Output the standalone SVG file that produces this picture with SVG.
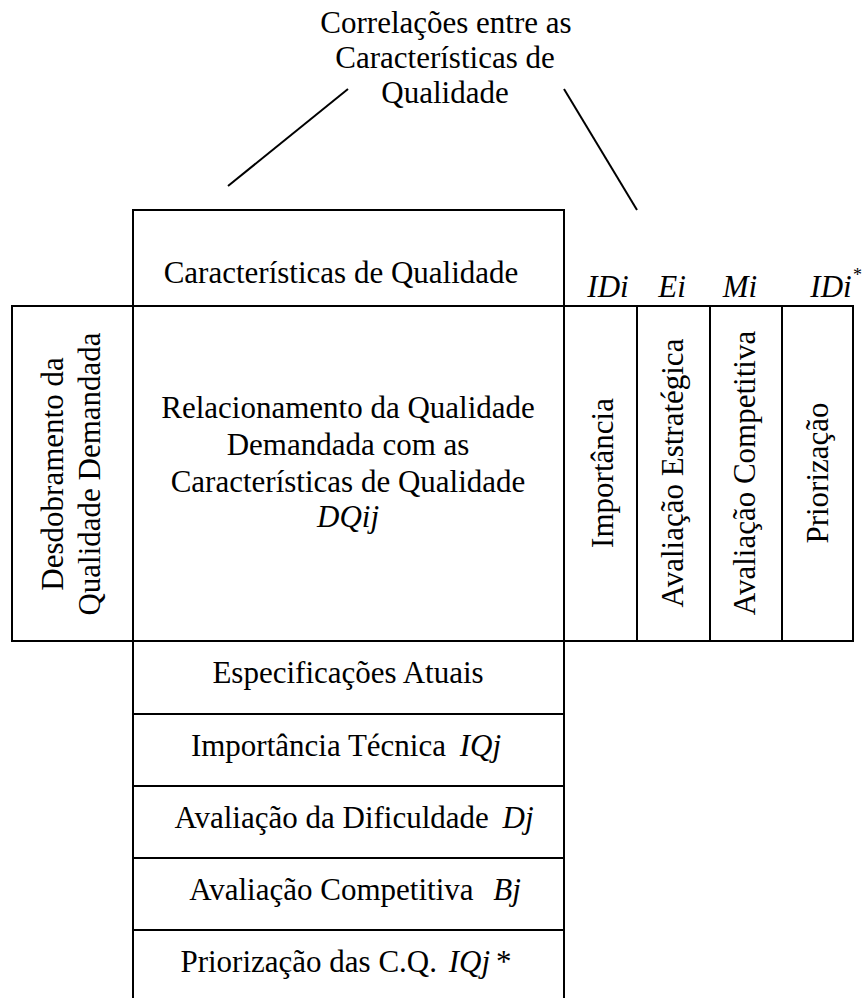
<svg xmlns="http://www.w3.org/2000/svg" width="866" height="998" viewBox="0 0 866 998">
  <style>
    text { font-family: "Liberation Serif", "Times New Roman", serif; font-size: 31px; fill: #000; }
    .c { text-anchor: middle; }
    .i { font-style: italic; }
    .sup { font-size: 18px; }
    .box { fill: none; stroke: #000; stroke-width: 2; }
    .ln { stroke: #000; stroke-width: 2; fill: none; }
  </style>
  <rect x="0" y="0" width="866" height="998" fill="#fff"/>

  <!-- roof title -->
  <g id="roof-title">
    <text class="c" x="446" y="33">Correlações entre as</text>
    <text class="c" x="445" y="68">Características de</text>
    <text class="c" x="445" y="103">Qualidade</text>
  </g>

  <!-- connectors from the roof title -->
  <g id="connectors">
    <line class="ln" x1="228" y1="186" x2="348" y2="89"/>
    <line class="ln" x1="564" y1="89" x2="637" y2="210"/>
  </g>

  <!-- column headers -->
  <g id="quality-characteristics">
    <rect class="box" x="133" y="210" width="431" height="96"/>
    <text class="c" x="341" y="283">Características de Qualidade</text>
  </g>

  <!-- demanded quality deployment -->
  <g id="demanded-quality">
    <rect class="box" x="12" y="306" width="121" height="335"/>
    <text class="c" transform="translate(63,474) rotate(-90)">Desdobramento da</text>
    <text class="c" transform="translate(100,474) rotate(-90)">Qualidade Demandada</text>
  </g>

  <!-- relationship matrix -->
  <g id="relationship-matrix">
    <rect class="box" x="133" y="306" width="431" height="335"/>
    <text class="c" x="348" y="418">Relacionamento da Qualidade</text>
    <text class="c" x="348" y="455">Demandada com as</text>
    <text class="c" x="348" y="492">Características de Qualidade</text>
    <text class="c i" x="348" y="527">DQij</text>
  </g>

  <!-- planning columns -->
  <g id="importance">
    <rect class="box" x="564" y="306" width="73" height="335"/>
    <text class="c i" x="608" y="297">IDi</text>
    <text class="c" transform="translate(613,473) rotate(-90)">Importância</text>
  </g>
  <g id="strategic-evaluation">
    <rect class="box" x="637" y="306" width="73" height="335"/>
    <text class="c i" x="672" y="297">Ei</text>
    <text class="c" transform="translate(683,473) rotate(-90)">Avaliação Estratégica</text>
  </g>
  <g id="competitive-evaluation">
    <rect class="box" x="710" y="306" width="72" height="335"/>
    <text class="c i" x="740" y="297">Mi</text>
    <text class="c" transform="translate(755,473) rotate(-90)">Avaliação Competitiva</text>
  </g>
  <g id="prioritization">
    <rect class="box" x="782" y="306" width="71" height="335"/>
    <text class="c i" x="831" y="297">IDi</text>
    <text class="sup" x="853" y="281">*</text>
    <text class="c" transform="translate(828,473) rotate(-90)">Priorização</text>
  </g>

  <!-- technical rows -->
  <g id="current-specs">
    <rect class="box" x="133" y="641" width="431" height="73"/>
    <text class="c" x="348" y="683">Especificações Atuais</text>
  </g>
  <g id="technical-importance">
    <rect class="box" x="133" y="714" width="431" height="72"/>
    <text class="c" x="346" y="756">Importância Técnica <tspan class="i" dx="6">IQj</tspan></text>
  </g>
  <g id="difficulty">
    <rect class="box" x="133" y="786" width="431" height="72"/>
    <text class="c" x="354" y="828">Avaliação da Dificuldade <tspan class="i" dx="6">Dj</tspan></text>
  </g>
  <g id="competitive-assessment">
    <rect class="box" x="133" y="858" width="431" height="72"/>
    <text class="c" x="355" y="900">Avaliação Competitiva <tspan class="i" dx="12">Bj</tspan></text>
  </g>
  <g id="cq-prioritization">
    <path class="ln" d="M133,930 H564 M133,930 V998 M564,930 V998"/>
    <text class="c" x="346" y="972">Priorização das C.Q. <tspan class="i" dx="4">IQj</tspan><tspan dx="6">*</tspan></text>
  </g>
</svg>
